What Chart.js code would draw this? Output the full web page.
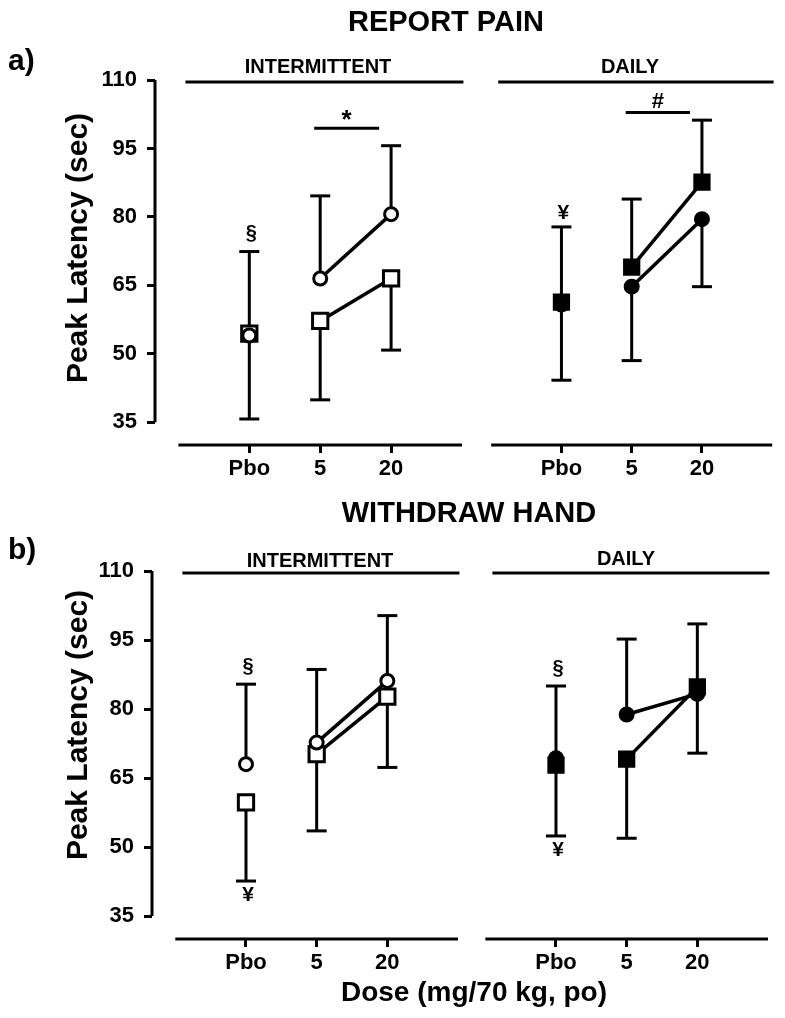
<!DOCTYPE html>
<html>
<head>
<meta charset="utf-8">
<script src="https://cdn.jsdelivr.net/npm/chart.js@4"></script>
<style>
  body { margin: 0; background: #fff; }
  #fig { position: relative; width: 785px; height: 1018px; font-family: 'Liberation Sans', Arial, sans-serif; font-weight: bold; color: #000; }
  #fig canvas { position: absolute; left: 0; top: 0; }
  .t { position: absolute; line-height: 1; white-space: nowrap; text-align: center; }
  .yt { position: absolute; width: 300px; height: 30px; line-height: 30px; font-size: 30px; text-align: center; white-space: nowrap; transform: rotate(-90deg); }
</style>
</head>
<body>
<div id="fig">
  <canvas id="painInt" width="785" height="1018"></canvas>
  <canvas id="painDaily" width="785" height="1018"></canvas>
  <canvas id="handInt" width="785" height="1018"></canvas>
  <canvas id="handDaily" width="785" height="1018"></canvas>

  <div class="t" style="left:246px; top:7px; width:400px; font-size:29px">REPORT PAIN</div>
  <div class="t" style="left:8px; top:45px; font-size:30px; text-align:left">a)</div>
  <div class="t" style="left:218px; top:56px; width:200px; font-size:20px">INTERMITTENT</div>
  <div class="t" style="left:530px; top:56px; width:200px; font-size:20px">DAILY</div>
  <div class="yt" style="left:-73px; top:233px">Peak Latency (sec)</div>

  <div class="t" style="left:269px; top:498px; width:400px; font-size:29px">WITHDRAW HAND</div>
  <div class="t" style="left:8px; top:534px; font-size:30px; text-align:left">b)</div>
  <div class="t" style="left:220px; top:550px; width:200px; font-size:20px">INTERMITTENT</div>
  <div class="t" style="left:526px; top:548px; width:200px; font-size:20px">DAILY</div>
  <div class="yt" style="left:-73px; top:710px">Peak Latency (sec)</div>

  <div class="t" style="left:274px; top:978px; width:400px; font-size:28px">Dose (mg/70 kg, po)</div>
</div>

<script>
const doses = ['Pbo', '5', '20'];
const yTicks = [35, 50, 65, 80, 95, 110];

// a) report pain -- circles and squares, error caps (upper / lower)
const painIntCircle = [54.0, 66.5, 80.6];
const painIntSquare = [54.4, 57.2, 66.5];
const painIntHi = [72.4, 84.6, 95.6];
const painIntLo = [35.7, 39.9, 50.8];

const painDailyCircle = [60.8, 64.7, 79.5];
const painDailySquare = [61.3, 69.0, 87.6];
const painDailyHi = [77.8, 83.9, 101.2];
const painDailyLo = [44.2, 48.5, 64.7];

// b) withdraw hand
const handIntCircle = [68.0, 72.7, 86.1];
const handIntSquare = [59.7, 70.2, 82.7];
const handIntHi = [85.4, 88.6, 100.3];
const handIntLo = [42.6, 53.5, 67.3];

const handDailyCircle = [69.3, 78.8, 83.3];
const handDailySquare = [67.8, 69.1, 84.8];
const handDailyHi = [85.0, 95.2, 98.5];
const handDailyLo = [52.4, 51.9, 70.4];

// significance symbols next to error caps
const painIntMarks = [{ dose: 0, at: 'hi', text: '§' }];
const painDailyMarks = [{ dose: 0, at: 'hi', text: '¥' }];
const handIntMarks = [{ dose: 0, at: 'hi', text: '§' }, { dose: 0, at: 'lo', text: '¥' }];
const handDailyMarks = [{ dose: 0, at: 'hi', text: '§' }, { dose: 0, at: 'lo', text: '¥' }];
const painIntBar = { from: 1, to: 2, level: 99.4, text: '*' };
const painDailyBar = { from: 1, to: 2, level: 102.9, text: '#' };

const FAMILY = "'Liberation Sans', Arial, sans-serif";
Chart.defaults.font.family = FAMILY;
Chart.defaults.font.weight = 'bold';
Chart.defaults.color = '#000';

const symbolSize = { '§': 20, '¥': 21, '*': 26, '#': 22 };
const symbolLift = { '*': 0, '#': 4 };

const toPoints = arr => arr.map((v, i) => ({ x: i, y: v }));

// axes, group rule, error bars, symbols
function decor(p) {
  return {
    id: 'decor',
    beforeDatasetsDraw(chart) {
      const { ctx, chartArea: a, scales: { x, y } } = chart;
      const seg = (x1, y1, x2, y2) => { ctx.beginPath(); ctx.moveTo(x1, y1); ctx.lineTo(x2, y2); ctx.stroke(); };
      ctx.save();
      ctx.strokeStyle = '#000';
      ctx.lineWidth = 3;
      seg(x.getPixelForValue(-1), a.bottom, a.right, a.bottom);
      if (p.yAxis) seg(a.left, y.getPixelForValue(110), a.left, y.getPixelForValue(35));
      const ry = y.getPixelForValue(110) + 2;
      seg(x.getPixelForValue(-0.9), ry, x.getPixelForValue(3.02), ry);

      p.hi.forEach((hi, i) => {
        const px = x.getPixelForValue(i);
        const top = Math.max(p.circle[i], p.square[i]);
        const bot = Math.min(p.circle[i], p.square[i]);
        const yHi = y.getPixelForValue(hi), yLo = y.getPixelForValue(p.lo[i]);
        seg(px, yHi, px, y.getPixelForValue(top));
        seg(px, y.getPixelForValue(bot), px, yLo);
        seg(px - 10, yHi, px + 10, yHi);
        seg(px - 10, yLo, px + 10, yLo);
      });
      ctx.restore();
    },
    afterDatasetsDraw(chart) {
      const { ctx, scales: { x, y } } = chart;
      ctx.save();
      ctx.fillStyle = '#000';
      ctx.strokeStyle = '#000';
      ctx.lineWidth = 3;
      ctx.textAlign = 'center';
      ctx.textBaseline = 'middle';
      p.marks.forEach(m => {
        const px = x.getPixelForValue(m.dose) + 2;
        const cap = y.getPixelForValue(m.at === 'hi' ? p.hi[m.dose] : p.lo[m.dose]);
        const gap = m.text === '§' ? 18 : 14;
        ctx.font = `bold ${symbolSize[m.text]}px ${FAMILY}`;
        ctx.fillText(m.text, px, m.at === 'hi' ? cap - gap : cap + gap);
      });
      if (p.bar) {
        const by = y.getPixelForValue(p.bar.level);
        const x1 = x.getPixelForValue(p.bar.from) - 6;
        const x2 = x.getPixelForValue(p.bar.to) - 12;
        ctx.beginPath(); ctx.moveTo(x1, by); ctx.lineTo(x2, by); ctx.stroke();
        ctx.textBaseline = 'alphabetic';
        ctx.font = `bold ${symbolSize[p.bar.text]}px ${FAMILY}`;
        ctx.fillText(p.bar.text, (x1 + x2) / 2, by - symbolLift[p.bar.text]);
      }
      ctx.restore();
    }
  };
}

function makePanel(id, p) {
  // p.area = where the plot area sits on the 785x1018 page
  const yW = p.yAxis ? 70 : 0;
  const skipFirst = { borderColor: c => c.p0DataIndex === 0 ? 'rgba(0,0,0,0)' : '#000' };
  return new Chart(document.getElementById(id), {
    type: 'line',
    data: {
      datasets: [
        {
          data: toPoints(p.circle),
          pointStyle: 'circle',
          pointRadius: p.filled ? 7 : 6.5,
          pointBackgroundColor: p.filled ? '#000' : '#fff',
          pointBorderColor: '#000',
          pointBorderWidth: p.filled ? 2 : 3,
          borderColor: '#000',
          borderWidth: 3.5,
          segment: skipFirst
        },
        {
          data: toPoints(p.square),
          pointStyle: 'rect',
          pointRadius: 10.8,
          pointBackgroundColor: p.filled ? '#000' : '#fff',
          pointBorderColor: '#000',
          pointBorderWidth: p.filled ? 2 : 3,
          borderColor: '#000',
          borderWidth: 3.5,
          segment: skipFirst
        }
      ]
    },
    options: {
      responsive: false,
      animation: false,
      events: [],
      layout: {
        padding: { left: p.area.left - yW, right: 785 - p.area.right, top: p.area.top, bottom: 1018 - p.area.bottom - 50 }
      },
      plugins: { legend: { display: false }, tooltip: { enabled: false } },
      scales: {
        x: {
          type: 'linear', min: -1.33, max: 3,
          afterBuildTicks: s => { s.ticks = doses.map((_, i) => ({ value: i })); },
          afterFit: s => { s.height = 50; },
          ticks: { callback: v => doses[v], font: { size: 22, weight: 'bold' }, padding: 3 },
          grid: { drawOnChartArea: false, tickLength: 8, lineWidth: 3, color: '#000' },
          border: { display: false }
        },
        y: {
          display: p.yAxis, min: 30, max: 110,
          afterBuildTicks: s => { s.ticks = yTicks.map(v => ({ value: v })); },
          afterFit: s => { s.width = yW; },
          ticks: { callback: v => String(v), font: { size: 22, weight: 'bold' }, padding: 10 },
          grid: { drawOnChartArea: false, tickLength: 8, lineWidth: 3, color: '#000' },
          border: { display: false }
        }
      }
    },
    plugins: [decor(p)]
  });
}

makePanel('painInt', {
  circle: painIntCircle, square: painIntSquare, hi: painIntHi, lo: painIntLo,
  marks: painIntMarks, bar: painIntBar, filled: false, yAxis: true,
  area: { left: 155, right: 462, top: 80, bottom: 445 }
});
makePanel('painDaily', {
  circle: painDailyCircle, square: painDailySquare, hi: painDailyHi, lo: painDailyLo,
  marks: painDailyMarks, bar: painDailyBar, filled: true, yAxis: false,
  area: { left: 468, right: 775, top: 80, bottom: 445 }
});
makePanel('handInt', {
  circle: handIntCircle, square: handIntSquare, hi: handIntHi, lo: handIntLo,
  marks: handIntMarks, bar: null, filled: false, yAxis: true,
  area: { left: 152, right: 458, top: 571, bottom: 939 }
});
makePanel('handDaily', {
  circle: handDailyCircle, square: handDailySquare, hi: handDailyHi, lo: handDailyLo,
  marks: handDailyMarks, bar: null, filled: true, yAxis: false,
  area: { left: 462, right: 768, top: 571, bottom: 939 }
});
</script>
</body>
</html>
